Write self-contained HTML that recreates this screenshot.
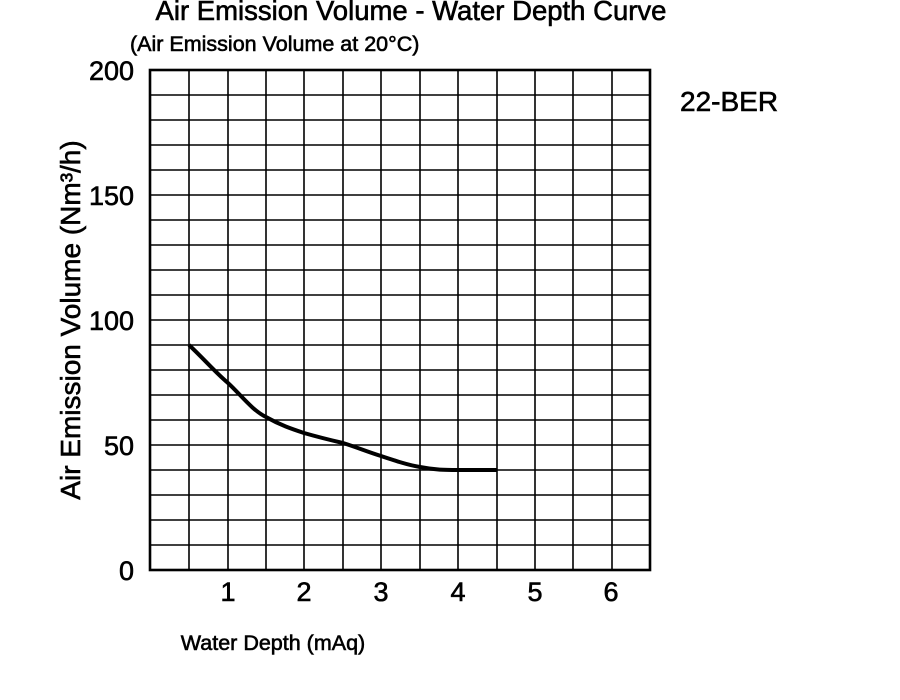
<!DOCTYPE html><html><head><style>body{margin:0;background:#fff}svg{display:block}text{font-family:"Liberation Sans",sans-serif;fill:#000;stroke:#000;stroke-width:0.6}</style></head><body>
<svg width="900" height="700" xmlns="http://www.w3.org/2000/svg">
<g stroke="#000" stroke-width="1.6">
<line x1="189" y1="70" x2="189" y2="570"/><line x1="228" y1="70" x2="228" y2="570"/><line x1="266" y1="70" x2="266" y2="570"/><line x1="304" y1="70" x2="304" y2="570"/><line x1="343" y1="70" x2="343" y2="570"/><line x1="381" y1="70" x2="381" y2="570"/><line x1="420" y1="70" x2="420" y2="570"/><line x1="458" y1="70" x2="458" y2="570"/><line x1="497" y1="70" x2="497" y2="570"/><line x1="535" y1="70" x2="535" y2="570"/><line x1="573" y1="70" x2="573" y2="570"/><line x1="612" y1="70" x2="612" y2="570"/>
<line x1="150" y1="95" x2="650" y2="95"/><line x1="150" y1="120" x2="650" y2="120"/><line x1="150" y1="145" x2="650" y2="145"/><line x1="150" y1="170" x2="650" y2="170"/><line x1="150" y1="195" x2="650" y2="195"/><line x1="150" y1="220" x2="650" y2="220"/><line x1="150" y1="245" x2="650" y2="245"/><line x1="150" y1="270" x2="650" y2="270"/><line x1="150" y1="295" x2="650" y2="295"/><line x1="150" y1="320" x2="650" y2="320"/><line x1="150" y1="345" x2="650" y2="345"/><line x1="150" y1="370" x2="650" y2="370"/><line x1="150" y1="395" x2="650" y2="395"/><line x1="150" y1="420" x2="650" y2="420"/><line x1="150" y1="445" x2="650" y2="445"/><line x1="150" y1="470" x2="650" y2="470"/><line x1="150" y1="495" x2="650" y2="495"/><line x1="150" y1="520" x2="650" y2="520"/><line x1="150" y1="545" x2="650" y2="545"/>
</g>
<rect x="150" y="70" width="500" height="500" fill="none" stroke="#000" stroke-width="2.6"/>
<path d="M189,345 C205,360 215,372 228,383 C242,396 252,410 266,417 C280,425 292,429 304,433 C318,437 330,440 343,443 C356,447 368,452 381,456 C396,461 408,465 420,467 C435,470 445,470 458,470 L497,470" fill="none" stroke="#000" stroke-width="4"/>
<text x="411" y="20" font-size="27.5" text-anchor="middle">Air Emission Volume - Water Depth Curve</text>
<text x="130" y="51" font-size="21.5">(Air Emission Volume at 20°C)</text>
<text x="680" y="111" font-size="28">22-BER</text>
<g font-size="27" text-anchor="end"><text x="134" y="80">200</text><text x="134" y="205">150</text><text x="134" y="330">100</text><text x="134" y="455">50</text><text x="134" y="580">0</text></g>
<g font-size="27" text-anchor="middle"><text x="228" y="601">1</text><text x="304" y="601">2</text><text x="381" y="601">3</text><text x="458" y="601">4</text><text x="535" y="601">5</text><text x="611" y="601">6</text></g>
<text x="273" y="650" font-size="21.5" text-anchor="middle">Water Depth (mAq)</text>
<text transform="translate(80,320) rotate(-90)" font-size="28" text-anchor="middle">Air Emission Volume (Nm³/h)</text>
</svg></body></html>
